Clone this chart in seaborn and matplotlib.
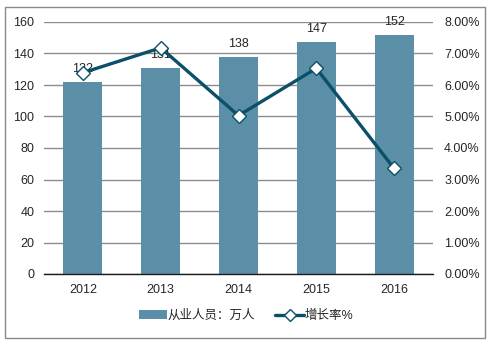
import matplotlib
matplotlib.use("Agg")
import matplotlib.pyplot as plt
from matplotlib.patches import Rectangle, Patch
from matplotlib.lines import Line2D
from matplotlib.ticker import FuncFormatter, MultipleLocator
import seaborn as sns
import pandas as pd

years = ["2012", "2013", "2014", "2015", "2016"]
employees = [122, 131, 138, 147, 152]          # 从业人员：万人
growth = [6.39, 7.18, 5.03, 6.53, 3.35]        # 增长率%

bar_color = "#5b8fa8"
line_color = "#0b5068"
grid_color = "#8c8c8c"
text_color = "#262626"

sns.set_theme(style="white")
plt.rcParams["font.family"] = ["Liberation Sans", "Noto Sans CJK SC", "DejaVu Sans"]

df = pd.DataFrame({"year": years, "employees": employees, "growth": growth})

fig = plt.figure(figsize=(4.93, 3.44), dpi=100)
ax = fig.add_axes([44 / 493, 70 / 344, 389 / 493, 252 / 344])

sns.barplot(data=df, x="year", y="employees", color=bar_color, width=0.5,
            saturation=1, ax=ax, zorder=2, edgecolor="none")
ax.set_ylim(0, 160)
ax.set_xlim(-0.5, 4.5)
ax.yaxis.set_major_locator(MultipleLocator(20))
ax.yaxis.grid(True, color=grid_color, linewidth=1.0, zorder=0)
ax.set_axisbelow(True)
for s in ("top", "left", "right"):
    ax.spines[s].set_visible(False)
ax.spines["bottom"].set_color("#1a1a1a")
ax.spines["bottom"].set_linewidth(1.0)
ax.set_xlabel("")
ax.set_ylabel("")
ax.tick_params(axis="both", length=0, labelsize=9, colors=text_color, pad=7)

for i, v in enumerate(employees):
    ax.text(i, v + 4.5, f"{v}", ha="center", va="bottom", fontsize=9,
            color=text_color, zorder=1)

ax2 = ax.twinx()
sns.pointplot(data=df, x="year", y="growth", ax=ax2, color=line_color,
              markers="D", linestyles="-", errorbar=None,
              markerfacecolor="white", markeredgecolor=line_color,
              markersize=7, markeredgewidth=1.0, linewidth=2.4)
ax2.set_xlim(-0.5, 4.5)
ax2.set_ylim(0, 8)
ax2.yaxis.set_major_locator(MultipleLocator(1))
ax2.yaxis.set_major_formatter(FuncFormatter(lambda v, p: f"{v:.2f}%"))
ax2.set_ylabel("")
ax2.set_xlabel("")
ax2.grid(False)
for s in ("top", "left", "right", "bottom"):
    ax2.spines[s].set_visible(False)
ax2.tick_params(axis="y", length=0, labelsize=9, colors=text_color, pad=8)

handles = [
    Patch(facecolor=bar_color, edgecolor="none"),
    Line2D([0], [0], color=line_color, linewidth=2.4, marker="D",
           markerfacecolor="white", markeredgecolor=line_color, markersize=6),
]
fig.legend(handles, ["从业人员：万人", "增长率%"], loc="center",
           bbox_to_anchor=(246 / 493, 1 - 316 / 344), ncol=2, frameon=False,
           fontsize=9, handlelength=2.3, handleheight=0.7, columnspacing=1.6,
           handletextpad=0.05, labelcolor=text_color)

fig.patches.append(Rectangle((5 / 493, 1 - 338 / 344), 480 / 493, 331 / 344,
                             transform=fig.transFigure, fill=False,
                             edgecolor="#8a8a8a", linewidth=1.0))

fig.savefig("out.png", dpi=100)
